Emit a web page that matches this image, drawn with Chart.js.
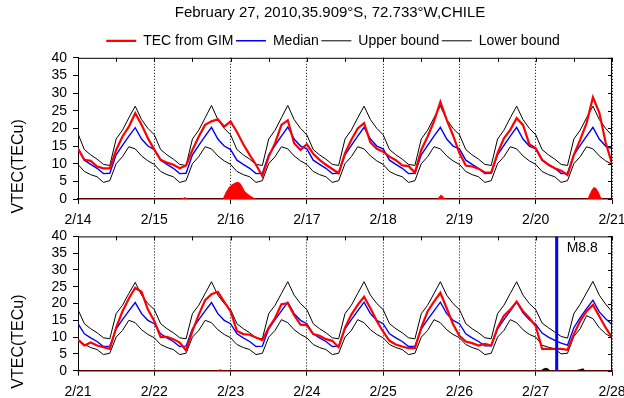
<!DOCTYPE html>
<html>
<head>
<meta charset="utf-8">
<script src="https://cdn.jsdelivr.net/npm/chart.js@4.4.1/dist/chart.umd.min.js"></script>
<style>
  html, body { margin: 0; padding: 0; background: #fff; }
  #wrap { position: relative; width: 624px; height: 398px; }
  #boxA { position: absolute; left: 0; top: 0; width: 624px; height: 232px; }
  #boxB { position: absolute; left: 0; top: 222px; width: 624px; height: 176px; }
</style>
</head>
<body>
<div id="wrap">
  <div id="boxA"><canvas id="chartA"></canvas></div>
  <div id="boxB"><canvas id="chartB"></canvas></div>
</div>
<script>
// day labels on the x axes
const DAYS_A = ['2/14', '2/15', '2/16', '2/17', '2/18', '2/19', '2/20', '2/21'];
const DAYS_B = ['2/21', '2/22', '2/23', '2/24', '2/25', '2/26', '2/27', '2/28'];
const Y_TICKS = [0, 5, 10, 15, 20, 25, 30, 35, 40];
const Y_TITLE = 'VTEC(TECu)';

// 2-hourly VTEC (TECu), 2/14 00UT .. 2/21 00UT
const TEC_A = [
  14.2, 11.1, 10.8, 9.2, 8.7, 8.7, 13.9, 17.7, 20.5, 24.3, 21.0, 17.2,
  14.0, 11.1, 10.3, 9.7, 8.7, 9.5, 13.9, 17.7, 21.0, 22.0, 22.6, 20.5,
  22.0, 19.0, 15.5, 12.5, 9.7, 6.5, 12.0, 15.8, 21.0, 22.3, 15.8, 13.9,
  15.5, 12.8, 11.1, 9.7, 8.5, 7.3, 13.0, 16.8, 20.0, 21.5, 16.0, 14.2,
  13.4, 12.0, 11.0, 9.5, 9.3, 7.5, 13.9, 17.7, 22.0, 27.5, 22.4, 18.0,
  13.0, 9.5, 9.2, 8.6, 7.5, 7.5, 13.0, 17.2, 19.6, 22.9, 21.0, 15.5,
  14.4, 11.1, 9.7, 8.7, 8.0, 6.8, 12.5, 16.8, 21.5, 28.8, 24.5, 16.0,
  10.0
];
const MEDIAN_A = [
  14.4, 11.0, 9.8, 8.7, 7.2, 7.3, 12.5, 15.2, 17.8, 20.2, 17.0, 15.0,
  14.0, 11.0, 9.8, 8.7, 7.2, 7.3, 12.5, 15.2, 17.8, 20.3, 17.0, 15.0,
  14.0, 11.0, 9.8, 8.7, 7.2, 7.3, 12.5, 15.2, 17.8, 20.4, 17.0, 15.0,
  14.2, 11.0, 9.8, 8.7, 7.2, 7.3, 12.5, 15.2, 17.8, 20.3, 17.0, 15.0,
  14.2, 11.0, 9.8, 8.7, 7.2, 7.3, 12.5, 15.2, 17.8, 20.3, 17.0, 15.0,
  14.2, 11.0, 9.8, 8.7, 7.2, 7.3, 12.5, 15.2, 17.8, 20.3, 17.0, 15.0,
  14.2, 11.0, 9.8, 8.7, 7.2, 7.3, 12.5, 15.2, 17.8, 20.3, 17.0, 15.0,
  14.3
];
const UPPER_A = [
  18.5, 14.0, 12.5, 11.3, 9.8, 9.5, 17.0, 19.5, 23.0, 26.3, 22.5, 20.0,
  18.2, 14.0, 12.5, 11.3, 9.8, 9.5, 17.0, 19.5, 23.0, 26.5, 22.5, 20.0,
  18.2, 14.0, 12.5, 11.3, 9.8, 9.5, 17.0, 19.5, 23.0, 26.5, 22.5, 20.0,
  18.2, 14.0, 12.5, 11.3, 9.8, 9.5, 17.0, 19.5, 23.0, 26.3, 22.5, 20.0,
  18.2, 14.0, 12.5, 11.3, 9.8, 9.5, 17.0, 19.5, 23.0, 26.3, 22.5, 20.0,
  18.2, 14.0, 12.5, 11.3, 9.8, 9.5, 17.0, 19.5, 23.0, 26.3, 22.5, 20.0,
  18.2, 14.0, 12.5, 11.3, 9.8, 9.5, 17.0, 19.5, 23.0, 26.3, 22.5, 20.0,
  18.0
];
const LOWER_A = [
  9.8, 7.8, 6.9, 6.3, 4.7, 5.2, 10.0, 12.0, 14.8, 14.2, 12.2, 10.8,
  9.8, 7.8, 6.9, 6.3, 4.7, 5.2, 10.0, 12.0, 14.8, 14.2, 12.2, 10.8,
  9.8, 7.8, 6.9, 6.3, 4.7, 5.2, 10.0, 12.0, 14.8, 14.2, 12.2, 10.8,
  9.8, 7.8, 6.9, 6.3, 4.7, 5.2, 10.0, 12.0, 14.8, 14.2, 12.2, 10.8,
  9.8, 7.8, 6.9, 6.3, 4.7, 5.2, 10.0, 12.0, 14.8, 14.2, 12.2, 10.8,
  9.8, 7.8, 6.9, 6.3, 4.7, 5.2, 10.0, 12.0, 14.8, 14.2, 12.2, 10.8,
  9.8, 7.8, 6.9, 6.3, 4.7, 5.2, 10.0, 12.0, 14.8, 14.2, 12.2, 10.8,
  9.8
];
// positive anomaly (above upper bound), [hour, TECu]
const EXCESS_A = [
  [0, 0], [32.6, 0], [33.6, 0.6], [34.6, 0],
  [45.5, 0], [46.5, 2.0], [47.5, 3.4], [48.5, 4.2], [49.5, 4.7], [50.3, 4.9], [51, 4.5],
  [51.7, 3.6], [52.5, 2.2], [53.5, 1.4], [54.5, 0.8], [55.5, 0.3], [56, 0],
  [113.0, 0], [113.7, 0.8], [114.2, 1.3], [114.8, 0.8], [115.5, 0],
  [160.3, 0], [161, 1.5], [161.6, 2.6], [162.3, 3.4], [163, 3.1], [163.8, 2.0], [164.5, 0.5], [164.8, 0],
  [168, 0]
];

// 2/21 00UT .. 2/28 00UT
const TEC_B = [
  9.2, 7.5, 8.4, 7.5, 7.0, 6.5, 12.8, 17.7, 21.5, 24.7, 23.5, 18.2,
  14.8, 10.0, 10.1, 9.4, 8.4, 6.0, 11.8, 16.7, 21.0, 22.8, 23.5, 20.5,
  17.7, 11.8, 10.9, 10.7, 9.9, 9.1, 12.8, 15.7, 19.8, 20.1, 16.5, 13.7,
  13.6, 10.9, 10.4, 9.4, 8.9, 7.0, 12.8, 16.7, 19.6, 22.0, 18.6, 14.8,
  11.6, 8.9, 7.8, 7.2, 6.7, 6.7, 12.8, 17.7, 20.6, 23.2, 18.6, 13.8,
  10.4, 8.7, 8.2, 7.5, 8.0, 7.5, 12.8, 16.4, 18.2, 20.6, 17.7, 15.7,
  13.3, 6.5, 6.5, 6.5, 6.5, 6.2, 10.9, 14.8, 17.7, 19.6, 16.2, 12.8,
  9.9
];
const MEDIAN_B = [
  14.0, 11.0, 9.8, 8.7, 7.2, 7.3, 12.5, 15.2, 17.8, 20.3, 17.0, 15.0,
  14.0, 11.0, 9.8, 8.7, 7.2, 7.3, 12.5, 15.2, 17.8, 20.3, 17.0, 15.0,
  14.0, 11.0, 9.8, 8.7, 7.2, 7.3, 12.5, 15.2, 17.8, 20.4, 17.0, 15.0,
  14.0, 11.0, 9.8, 8.7, 7.2, 7.3, 12.5, 15.2, 17.8, 20.4, 17.0, 15.0,
  14.0, 11.0, 9.8, 8.7, 7.2, 7.3, 12.5, 15.2, 17.8, 20.4, 17.0, 15.0,
  14.0, 11.0, 9.8, 8.7, 7.4, 7.4, 12.5, 15.2, 17.8, 20.5, 17.2, 15.2,
  13.8, 11.2, 10.0, 9.0, 8.2, 7.6, 12.8, 15.8, 18.5, 21.0, 17.5, 15.5,
  13.8
];
const UPPER_B = [
  18.2, 14.0, 12.5, 11.3, 9.8, 9.5, 17.0, 19.5, 23.0, 26.3, 22.5, 20.0,
  18.2, 14.0, 12.5, 11.3, 9.8, 9.5, 17.0, 19.5, 23.0, 26.5, 22.5, 20.0,
  18.2, 14.0, 12.5, 11.3, 9.8, 9.5, 17.0, 19.5, 23.0, 26.5, 22.5, 20.0,
  18.2, 14.0, 12.5, 11.3, 9.8, 9.5, 17.0, 19.5, 23.0, 26.5, 22.5, 20.0,
  18.2, 14.0, 12.5, 11.3, 9.8, 9.5, 17.0, 19.5, 23.0, 26.5, 22.5, 20.0,
  18.2, 14.0, 12.5, 11.3, 9.8, 9.5, 17.0, 19.5, 23.0, 26.5, 22.5, 20.0,
  18.2, 14.2, 12.8, 11.5, 10.2, 9.7, 17.0, 19.8, 23.2, 26.6, 22.5, 19.8,
  17.6
];
const LOWER_B = [
  9.4, 7.8, 6.9, 6.3, 4.8, 5.2, 10.0, 12.0, 15.0, 14.3, 12.2, 10.8,
  9.8, 7.8, 6.9, 6.3, 4.8, 5.2, 10.0, 12.0, 15.0, 14.3, 12.2, 10.8,
  9.8, 7.8, 6.9, 6.3, 4.8, 5.2, 10.0, 12.0, 15.2, 14.3, 12.2, 10.8,
  9.8, 7.8, 6.9, 6.3, 4.8, 5.2, 10.0, 12.0, 15.2, 14.3, 12.2, 10.8,
  9.8, 7.8, 6.9, 6.3, 4.8, 5.2, 10.0, 12.0, 15.2, 14.3, 12.2, 10.8,
  9.8, 7.8, 6.9, 6.3, 4.8, 5.2, 10.0, 12.0, 15.2, 14.3, 12.2, 10.8,
  10.0, 7.6, 7.0, 6.5, 5.0, 5.2, 10.2, 12.5, 16.4, 15.5, 12.8, 11.0,
  9.9
];
// anomalies for the second panel
const EXCESS_B = [[0, 0], [43.8, 0], [44.8, 0.4], [45.8, 0], [168, 0]];
const DEFICIT_B = [
  [0, 0], [0.3, 0.3], [1.5, 0],
  [145.5, 0], [146.3, 0.6], [147.2, 0.9], [148.0, 0.6], [148.6, 0],
  [156.3, 0], [157.2, 0.3], [158.2, 0.5], [158.9, 0.7], [159.6, 0],
  [168, 0]
];
const EQ_HOUR = 150.6;   // 2/27 06:34 UT
const EQ_LABEL = 'M8.8';

Chart.defaults.font.family = '"Liberation Sans", Arial, sans-serif';
Chart.defaults.color = '#000';
Chart.defaults.animation = false;

const series = (vals) => vals.map((v, i) => ({ x: i * 2, y: v }));
const pairs = (list) => list.map(p => ({ x: p[0], y: p[1] }));

// box, inner ticks on top/right, y title, header nudge, quake label
const framePlugin = {
  id: 'frame',
  afterLayout(chart, args, opts) {
    if (chart.legend && opts.legendShift) {
      chart.legend.left += opts.legendShift;
      chart.legend.right += opts.legendShift;
    }
    if (chart.titleBlock && opts.titleShift) {
      chart.titleBlock.left += opts.titleShift;
      chart.titleBlock.right += opts.titleShift;
    }
  },
  afterDraw(chart, args, opts) {
    const { ctx, chartArea: a, scales: { x, y } } = chart;
    ctx.save();
    ctx.strokeStyle = '#000';
    ctx.lineWidth = 1;
    ctx.beginPath();
    ctx.moveTo(a.left, a.top + 0.5);
    ctx.lineTo(a.right, a.top + 0.5);
    ctx.moveTo(a.right - 0.5, a.top);
    ctx.lineTo(a.right - 0.5, a.bottom);
    for (let h = 0; h <= 168; h += 12) {
      const px = Math.round(x.getPixelForValue(h)) + 0.5;
      ctx.moveTo(px, a.top);
      ctx.lineTo(px, a.top + 4);
    }
    Y_TICKS.forEach(v => {
      const py = Math.round(y.getPixelForValue(v)) + 0.5;
      ctx.moveTo(a.right, py);
      ctx.lineTo(a.right - 4, py);
    });
    ctx.stroke();

    ctx.fillStyle = '#000';
    ctx.textBaseline = 'middle';
    ctx.textAlign = 'center';
    ctx.font = '16px "Liberation Sans", Arial, sans-serif';
    ctx.save();
    ctx.translate(19, (a.top + a.bottom) / 2 + 38);
    ctx.rotate(-Math.PI / 2);
    ctx.fillText(Y_TITLE, 0, 0);
    ctx.restore();

    if (opts.note) {
      ctx.textAlign = 'left';
      ctx.font = '14px "Liberation Sans", Arial, sans-serif';
      ctx.fillText(opts.note.text, x.getPixelForValue(opts.note.x) + 10, y.getPixelForValue(opts.note.y));
    }
    ctx.restore();
  }
};

function makeOptions(days, opts) {
  return {
    responsive: true,
    maintainAspectRatio: false,
    layout: { padding: { left: 0, right: 12, top: opts.padTop, bottom: 0 } },
    plugins: {
      title: {
        display: opts.title,
        text: 'February 27, 2010,35.909°S, 72.733°W,CHILE',
        font: { size: 15, weight: 'normal' },
        fullSize: false,
        padding: { top: 4, bottom: 9.3 }
      },
      legend: {
        display: opts.title,
        fullSize: false,
        labels: {
          usePointStyle: true,
          pointStyle: 'line',
          pointStyleWidth: 30,
          padding: 2.5,
          font: { size: 14 },
          filter: (item) => item.datasetIndex < 4
        }
      },
      tooltip: { enabled: false },
      frame: { note: opts.note, legendShift: -12, titleShift: -15 }
    },
    scales: {
      x: {
        type: 'linear',
        min: 0,
        max: 168,
        afterFit: (s) => { s.height = opts.xHeight; s.paddingLeft = 0; s.paddingRight = 0; },
        ticks: {
          stepSize: 24,
          autoSkip: false,
          maxRotation: 0,
          padding: 8,
          font: { size: 14 },
          callback: (v) => days[v / 24]
        },
        grid: { color: '#000', lineWidth: 1, tickLength: 5, tickBorderDash: [] },
        border: { color: '#600000', width: 1.5, dash: [1, 2] }
      },
      y: {
        min: 0,
        max: 40,
        afterFit: (s) => { s.width = 78; },
        ticks: { stepSize: 5, autoSkip: false, padding: 6, font: { size: 14 } },
        grid: { drawOnChartArea: false, color: '#000', tickLength: 5 },
        border: { color: '#000', width: 1 }
      }
    }
  };
}

function lines(tec, med, up, low) {
  return [
    { label: 'TEC from GIM', data: series(tec), borderColor: '#ff0000', backgroundColor: '#ff0000', borderWidth: 2.2, pointRadius: 0 },
    { label: 'Median', data: series(med), borderColor: '#0000ff', backgroundColor: '#0000ff', borderWidth: 1.4, pointRadius: 0 },
    { label: 'Upper bound', data: series(up), borderColor: '#000', backgroundColor: '#000', borderWidth: 1, pointRadius: 0 },
    { label: 'Lower bound', data: series(low), borderColor: '#000', backgroundColor: '#000', borderWidth: 1, pointRadius: 0 }
  ];
}

const fillSet = (label, pts, color) => ({
  label, data: pairs(pts), borderWidth: 0, borderColor: color,
  backgroundColor: color, fill: 'origin', pointRadius: 0
});

new Chart(document.getElementById('chartA'), {
  type: 'line',
  data: {
    datasets: [
      ...lines(TEC_A, MEDIAN_A, UPPER_A, LOWER_A),
      fillSet('excess', EXCESS_A, '#ff0000')
    ]
  },
  options: makeOptions(DAYS_A, { title: true, padTop: 0, xHeight: 33 }),
  plugins: [framePlugin]
});

new Chart(document.getElementById('chartB'), {
  type: 'line',
  data: {
    datasets: [
      ...lines(TEC_B, MEDIAN_B, UPPER_B, LOWER_B),
      fillSet('excess', EXCESS_B, '#ff0000'),
      fillSet('deficit', DEFICIT_B, '#000'),
      {
        label: EQ_LABEL, order: -1,
        data: [{ x: EQ_HOUR, y: 0 }, { x: EQ_HOUR, y: 40 }],
        borderColor: '#0000ff', borderWidth: 3, pointRadius: 0
      }
    ]
  },
  options: makeOptions(DAYS_B, { title: false, padTop: 11.3, xHeight: 27.3, note: { text: EQ_LABEL, x: EQ_HOUR, y: 36.5 } }),
  plugins: [framePlugin]
});
</script>
</body>
</html>
